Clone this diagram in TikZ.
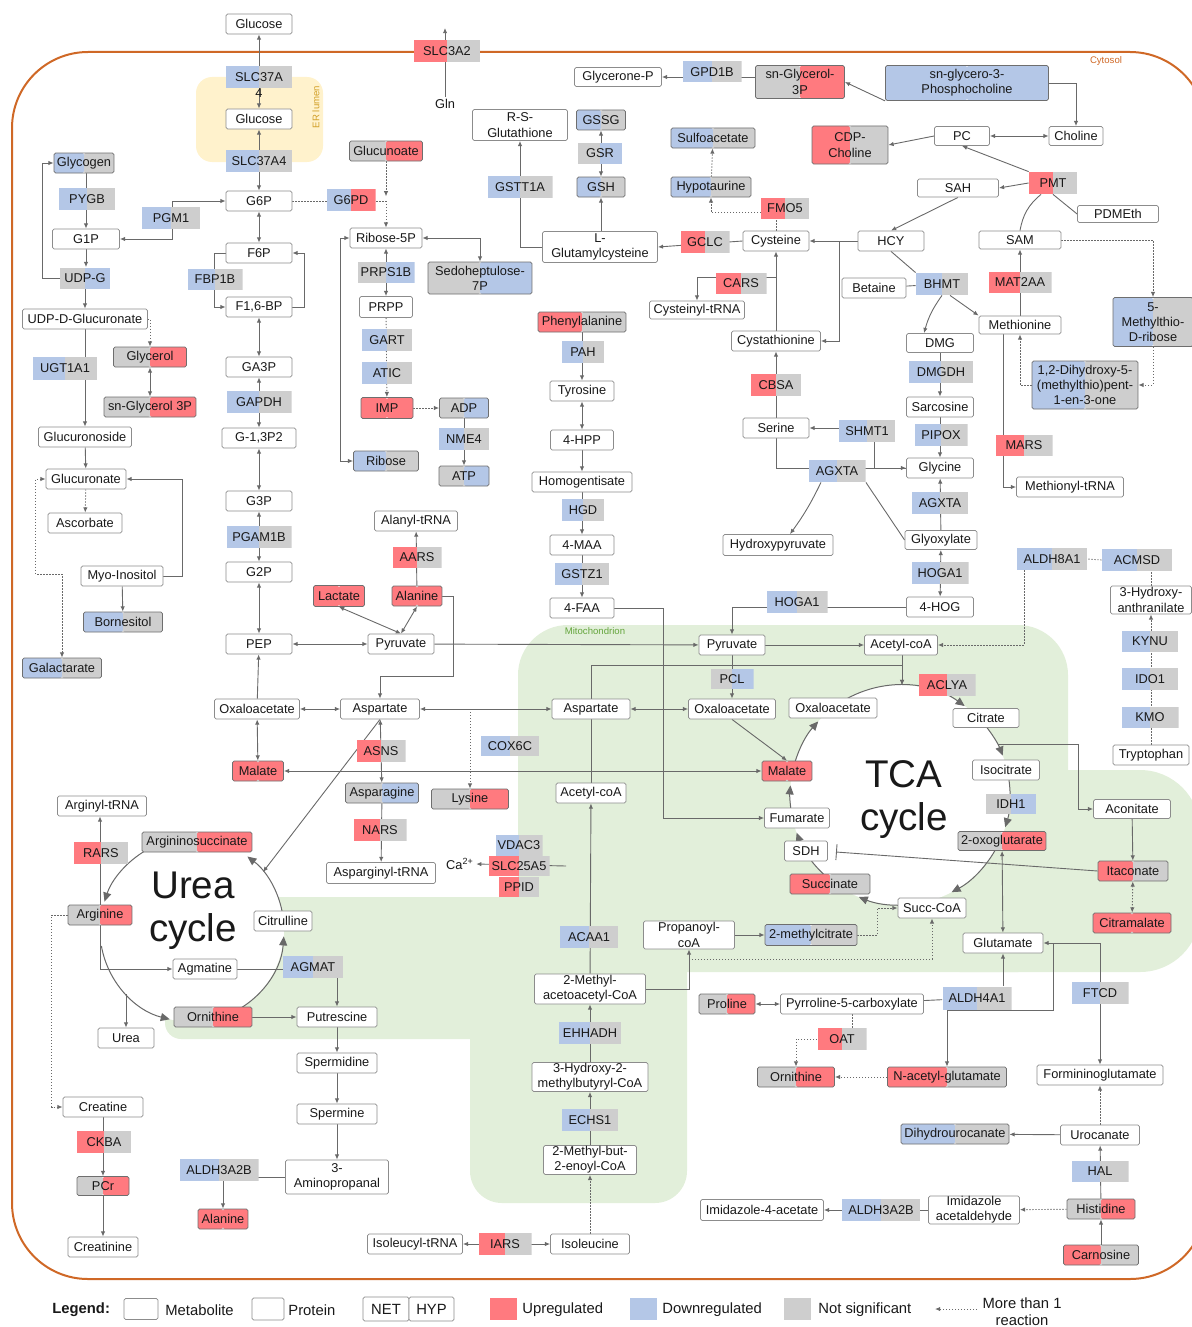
\documentclass[tikz,border=0pt]{standalone}
\usepackage{fontspec}
\setmainfont{Liberation Sans}
\usetikzlibrary{arrows.meta}
\definecolor{upc}{RGB}{255,122,127}
\definecolor{dnc}{RGB}{180,199,231}
\definecolor{nsc}{RGB}{206,206,206}
\definecolor{metline}{RGB}{140,140,140}
\definecolor{cmetline}{RGB}{110,110,110}
\definecolor{linegray}{RGB}{105,105,105}
\definecolor{cytoc}{RGB}{207,104,38}
\definecolor{mitoc}{RGB}{226,239,218}
\definecolor{mitotext}{RGB}{100,165,60}
\definecolor{erc}{RGB}{255,242,204}
\definecolor{ertext}{RGB}{210,160,40}
\definecolor{txt}{RGB}{25,25,25}
\newcommand\nodefont{\fontsize{6.4}{7.6}\selectfont}
\newcommand\legfont{\fontsize{7.4}{8.6}\selectfont}
\newcommand\cycfont{\fontsize{19.3}{21.5}\selectfont}
\newcommand\tagfont{\fontsize{4.8}{5.5}\selectfont}
\pgfdeclarelayer{bg}
\pgfdeclarelayer{edges}
\pgfsetlayers{bg,edges,main}
\tikzset{
  half/.style 2 args={path picture={
      \fill[#1] (path picture bounding box.south west) rectangle (path picture bounding box.north);
      \fill[#2] (path picture bounding box.south) rectangle (path picture bounding box.north east);}},
  met/.style={draw=metline, fill=white, rounded corners=0.8pt, inner sep=0pt,
      minimum height=10pt, align=center, font=\nodefont, text=txt},
  cmet/.style 2 args={met, draw=cmetline, half={#1}{#2}},
  prot/.style 2 args={inner sep=0pt, minimum height=11pt, align=center,
      font=\nodefont, text=txt, half={#1}{#2}},
  wd/.style={minimum width=#1*0.5pt},
  ht/.style={minimum height=#1*0.5pt},
  multi/.style={dash pattern=on 0.6pt off 0.9pt},
  cyc/.style={draw=linegray, line width=0.5pt, -{Triangle[length=4.5pt,width=4pt]}},
  swatch/.style={inner sep=0pt, minimum width=13.5pt, minimum height=11pt},
}
\begin{document}
\begin{tikzpicture}[x=0.5pt,y=-0.5pt,>={Latex[length=2.6pt,width=2.2pt]}]
\useasboundingbox (0,0) rectangle (1192,1327);

% ---------------- glucose, glycolysis ----------------
\node[met,wd=66] (gluOut) at (259,24) {Glucose};
\node[prot={dnc}{nsc},wd=66] (slcA) at (259,77) {SLC37A};
\node[inner sep=0pt,font=\nodefont,text=txt] (slcAfour) at (259,93) {4};
\node[met,wd=66] (gluER) at (259,119) {Glucose};
\node[prot={dnc}{nsc},wd=66] (slcB) at (259,161) {SLC37A4};
\node[met,wd=66] (gsixp) at (259,201) {G6P};
\node[met,wd=66] (fsixp) at (259,253) {F6P};
\node[met,wd=66] (fbp) at (259,307) {F1,6-BP};
\node[met,wd=66] (gathreep) at (259,367) {GA3P};
\node[prot={dnc}{nsc},wd=65] (gapdh) at (259,402) {GAPDH};
\node[met,wd=74] (gonethree) at (259,438) {G-1,3P2};
\node[met,wd=66] (gthreep) at (259,501) {G3P};
\node[prot={dnc}{nsc},wd=65] (pgam) at (259,537) {PGAM1B};
\node[met,wd=66] (gtwop) at (259,572) {G2P};
\node[met,wd=66] (pep) at (259,644) {PEP};
\node[met,wd=85] (oaaL) at (257,709) {Oxaloacetate};
\node[cmet={upc}{upc},wd=51] (malL) at (258,771) {Malate};

% ---------------- glycogen, glucuronate ----------------
\node[cmet={dnc}{nsc},wd=60] (glycogen) at (84,163) {Glycogen};
\node[prot={dnc}{nsc},wd=56] (pygb) at (87,199) {PYGB};
\node[prot={dnc}{nsc},wd=58] (pgm) at (171,218) {PGM1};
\node[met,wd=67] (gonep) at (86,239) {G1P};
\node[prot={nsc}{dnc},wd=50,ht=21] (udpg) at (85,278) {UDP-G};
\node[prot={dnc}{nsc},wd=55,ht=21] (fbpb) at (215,279) {FBP1B};
\node[met,wd=125] (udpgluc) at (85,319) {UDP-D-Glucuronate};
\node[cmet={nsc}{upc},wd=73] (glycerol) at (150,357) {Glycerol};
\node[prot={dnc}{nsc},wd=64,ht=23] (ugt) at (65,368) {UGT1A1};
\node[cmet={nsc}{upc},wd=92] (snglyc) at (150,407) {sn-Glycerol 3P};
\node[met,wd=93] (glucuronoside) at (85,437) {Glucuronoside};
\node[met,wd=80] (glucuronate) at (86,479) {Glucuronate};
\node[met,wd=74] (ascorbate) at (85,523) {Ascorbate};
\node[met,wd=82] (myoino) at (122,576) {Myo-Inositol};
\node[cmet={dnc}{nsc},wd=79] (bornesitol) at (123,622) {Bornesitol};
\node[cmet={dnc}{nsc},wd=79] (galactarate) at (62,668) {Galactarate};

% ---------------- pentose phosphate, purines ----------------
\node[prot={upc}{nsc},wd=66] (slcthree) at (447,51) {SLC3A2};
\node[font=\nodefont,text=txt,inner sep=1pt] (gln) at (445,104) {Gln};
\node[cmet={nsc}{upc},wd=73] (glucunoate) at (386,151) {Glucunoate};
\node[prot={dnc}{upc},wd=49] (gsixpd) at (351,200) {G6PD};
\node[met,wd=72] (ribfivep) at (386,238) {Ribose-5P};
\node[prot={nsc}{dnc},wd=57,ht=21] (prps) at (386,272) {PRPS1B};
\node[cmet={nsc}{dnc},wd=104,ht=32] (sedo) at (480,278) {Sedoheptulose-\\7P};
\node[met,wd=53,ht=21] (prpp) at (386,307) {PRPP};
\node[prot={dnc}{nsc},wd=50] (gart) at (387,340) {GART};
\node[prot={dnc}{nsc},wd=50] (atic) at (387,373) {ATIC};
\node[cmet={upc}{upc},wd=52,ht=21] (imp) at (387,408) {IMP};
\node[cmet={nsc}{dnc},wd=49] (adp) at (464,408) {ADP};
\node[prot={dnc}{nsc},wd=50] (nme) at (464,439) {NME4};
\node[cmet={dnc}{nsc},wd=65] (ribose) at (386,461) {Ribose};
\node[cmet={nsc}{dnc},wd=50] (atp) at (464,476) {ATP};

% ---------------- alanine, aspartate ----------------
\node[met,wd=83] (alatrna) at (416,521) {Alanyl-tRNA};
\node[prot={upc}{nsc},wd=49,ht=21] (aars) at (417,557) {AARS};
\node[cmet={upc}{upc},wd=51,ht=21] (lactate) at (339,596) {Lactate};
\node[cmet={upc}{upc},wd=50] (alaU) at (417,596) {Alanine};
\node[met,wd=66] (pyrL) at (401,644) {Pyruvate};
\node[met,wd=79] (aspL) at (380,709) {Aspartate};
\node[prot={upc}{nsc},wd=49] (asns) at (381,751) {ASNS};
\node[prot={dnc}{nsc},wd=58,ht=20] (cox) at (510,746) {COX6C};
\node[cmet={nsc}{dnc},wd=73] (asparagine) at (382,793) {Asparagine};
\node[cmet={nsc}{upc},wd=77] (lysine) at (470,799) {Lysine};
\node[prot={upc}{nsc},wd=53] (nars) at (380,830) {NARS};
\node[prot={dnc}{nsc},wd=47,ht=21] (vdac) at (519,845) {VDAC3};
\node[prot={upc}{nsc},wd=61,ht=20] (slctwofive) at (519,866) {SLC25A5};
\node[prot={upc}{nsc},wd=40,ht=20] (ppid) at (519,887) {PPID};
\node[font=\nodefont,text=txt,inner sep=1pt] (ca) at (460,864) {Ca\textsuperscript{2+}};
\node[met,wd=109,ht=21] (asntrna) at (381,873) {Asparginyl-tRNA};

% ---------------- glutathione, tyrosine ----------------
\node[met,wd=95,ht=31] (rsglut) at (520,125) {R-S-\\Glutathione};
\node[cmet={dnc}{nsc},wd=49] (gssg) at (601,120) {GSSG};
\node[prot={nsc}{dnc},wd=44,ht=21] (gsr) at (600,153) {GSR};
\node[cmet={dnc}{nsc},wd=48] (gsh) at (601,187) {GSH};
\node[prot={dnc}{nsc},wd=65] (gstt) at (520,187) {GSTT1A};
\node[met,wd=115,ht=31] (lglut) at (600,247) {L-\\Glutamylcysteine};
\node[cmet={upc}{nsc},wd=88] (phe) at (582,322) {Phenylalanine};
\node[prot={dnc}{nsc},wd=42] (pah) at (583,352) {PAH};
\node[met,wd=64] (tyr) at (582,391) {Tyrosine};
\node[met,wd=63] (hpp) at (582,440) {4-HPP};
\node[met,wd=100] (homog) at (582,482) {Homogentisate};
\node[prot={dnc}{nsc},wd=42] (hgd) at (583,510) {HGD};
\node[met,wd=64] (maa) at (582,545) {4-MAA};
\node[prot={dnc}{nsc},wd=54] (gstz) at (582,574) {GSTZ1};
\node[met,wd=64] (faa) at (582,608) {4-FAA};

% ---------------- choline, methionine, serine ----------------
\node[met,wd=87,ht=19] (glyceroneP) at (618,77) {Glycerone-P};
\node[prot={dnc}{nsc},wd=59,ht=21] (gpd) at (712,72) {GPD1B};
\node[cmet={nsc}{upc},wd=89,ht=33] (snglycthree) at (800,82) {sn-Glycerol-\\3P};
\node[cmet={dnc}{dnc},wd=163,ht=35] (gpc) at (967,83) {sn-glycero-3-\\Phosphocholine};
\node[cmet={dnc}{nsc},wd=84] (sulfo) at (713,138) {Sulfoacetate};
\node[cmet={upc}{nsc},wd=76,ht=38] (cdpchol) at (850,145) {CDP-\\Choline};
\node[met,wd=55,ht=19] (pc) at (962,136) {PC};
\node[met,wd=54,ht=19] (choline) at (1076,136) {Choline};
\node[cmet={dnc}{nsc},wd=80] (hypot) at (711,187) {Hypotaurine};
\node[prot={upc}{nsc},wd=48,ht=21] (fmo) at (785,208) {FMO5};
\node[met,wd=81,ht=18] (sah) at (958,188) {SAH};
\node[prot={upc}{nsc},wd=48] (pmt) at (1053,183) {PMT};
\node[met,wd=81,ht=17] (pdmeth) at (1118,214) {PDMEth};
\node[prot={upc}{nsc},wd=49] (gclc) at (705,242) {GCLC};
\node[met,wd=66] (cys) at (776,241) {Cysteine};
\node[met,wd=66] (hcy) at (891,241) {HCY};
\node[met,wd=82,ht=18] (sam) at (1020,240) {SAM};
\node[prot={upc}{nsc},wd=51,ht=21] (cars) at (741,283) {CARS};
\node[met,wd=64] (betaine) at (874,288) {Betaine};
\node[prot={dnc}{nsc},wd=52] (bhmt) at (942,284) {BHMT};
\node[prot={upc}{nsc},wd=63,ht=21] (mat) at (1020,282) {MAT2AA};
\node[cmet={dnc}{nsc},wd=80,ht=49] (mtr) at (1153,322) {5-\\Methylthio-\\D-ribose};
\node[met,wd=95,ht=18] (cystrna) at (697,310) {Cysteinyl-tRNA};
\node[met,wd=82,ht=18] (methionine) at (1020,325) {Methionine};
\node[met,wd=89] (cysta) at (776,341) {Cystathionine};
\node[met,wd=67,ht=19] (dmg) at (940,343) {DMG};
\node[prot={dnc}{nsc},wd=64] (dmgdh) at (941,372) {DMGDH};
\node[cmet={dnc}{nsc},wd=106,ht=48] (dhmtp) at (1085,385) {1,2-Dihydroxy-5-\\(methylthio)pent-\\1-en-3-one};
\node[prot={upc}{nsc},wd=50] (cbsa) at (776,385) {CBSA};
\node[met,wd=67] (sarcosine) at (940,407) {Sarcosine};
\node[met,wd=66] (serine) at (776,428) {Serine};
\node[prot={dnc}{nsc},wd=56] (shmt) at (867,431) {SHMT1};
\node[prot={dnc}{nsc},wd=53] (pipox) at (941,435) {PIPOX};
\node[prot={upc}{nsc},wd=57,ht=21] (mars) at (1024,445) {MARS};
\node[met,wd=67] (glycine) at (940,468) {Glycine};
\node[prot={dnc}{nsc},wd=57] (agxtM) at (837,471) {AGXTA};
\node[met,wd=107] (methtrna) at (1070,487) {Methionyl-tRNA};
\node[prot={dnc}{nsc},wd=56] (agxtR) at (940,503) {AGXTA};
\node[met,wd=72,ht=19] (glyox) at (941,540) {Glyoxylate};
\node[met,wd=110,ht=21] (hydroxypyr) at (778,545) {Hydroxypyruvate};
\node[prot={dnc}{nsc},wd=70] (aldheight) at (1052,559) {ALDH8A1};
\node[prot={dnc}{nsc},wd=70] (acmsd) at (1137,560) {ACMSD};
\node[prot={dnc}{nsc},wd=57] (hogaR) at (940,573) {HOGA1};
\node[prot={dnc}{nsc},wd=61] (hogaL) at (797,602) {HOGA1};
\node[met,wd=81,ht=28] (haa) at (1151,600) {3-Hydroxy-\\anthranilate};
\node[met,wd=67] (hog) at (940,607) {4-HOG};
\node[prot={dnc}{nsc},wd=56,ht=21] (kynu) at (1150,641) {KYNU};
\node[prot={dnc}{nsc},wd=56] (ido) at (1150,679) {IDO1};
\node[prot={dnc}{nsc},wd=57,ht=21] (kmo) at (1150,717) {KMO};
\node[met,wd=76] (tryp) at (1151,755) {Tryptophan};

% ---------------- mitochondrion, TCA cycle ----------------
\node[met,wd=66] (pyrM) at (732,645) {Pyruvate};
\node[met,wd=73] (acoaT) at (901,645) {Acetyl-coA};
\node[prot={nsc}{dnc},wd=43,ht=20] (pcl) at (732,679) {PCL};
\node[prot={upc}{nsc},wd=57] (aclya) at (947,685) {ACLYA};
\node[met,wd=87] (oaaM) at (732,709) {Oxaloacetate};
\node[met,wd=88] (oaaT) at (833,708) {Oxaloacetate};
\node[met,wd=78] (aspM) at (591,709) {Aspartate};
\node[met,wd=66,ht=19] (citrate) at (986,718) {Citrate};
\node[met,wd=67] (isocit) at (1006,770) {Isocitrate};
\node[cmet={upc}{upc},wd=50] (malT) at (787,771) {Malate};
\node[met,wd=70] (acoaM) at (591,793) {Acetyl-coA};
\node[prot={nsc}{dnc},wd=50,ht=20] (idh) at (1011,804) {IDH1};
\node[met,wd=77,ht=19] (aconitate) at (1132,809) {Aconitate};
\node[met,wd=65] (fumarate) at (797,818) {Fumarate};
\node[cmet={nsc}{upc},wd=88,ht=19] (oxoglut) at (1002,841) {2-oxoglutarate};
\node[met,wd=43] (sdh) at (806,851) {SDH};
\node[cmet={upc}{nsc},wd=70] (itaconate) at (1133,871) {Itaconate};
\node[cmet={upc}{nsc},wd=80] (succinate) at (830,884) {Succinate};
\node[met,wd=68] (succcoa) at (932,908) {Succ-CoA};
\node[cmet={upc}{upc},wd=78] (citramalate) at (1132,923) {Citramalate};
\node[met,wd=91,ht=28] (propcoa) at (689,935) {Propanoyl-\\coA};
\node[cmet={dnc}{nsc},wd=92,ht=21] (mcit) at (811,935) {2-methylcitrate};
\node[prot={dnc}{nsc},wd=58] (acaa) at (589,937) {ACAA1};
\node[met,wd=80] (glutamate) at (1003,943) {Glutamate};
\node[met,wd=111,ht=30] (mabcoa) at (590,989) {2-Methyl-\\acetoacetyl-CoA};
\node[prot={dnc}{nsc},wd=62] (ehhadh) at (590,1033) {EHHADH};
\node[met,wd=116,ht=29] (hmbcoa) at (590,1077) {3-Hydroxy-2-\\methylbutyryl-CoA};
\node[prot={dnc}{nsc},wd=56] (echs) at (590,1120) {ECHS1};
\node[met,wd=93,ht=29] (mbecoa) at (590,1160) {2-Methyl-but-\\2-enoyl-CoA};
\node[met,wd=79] (isoleucine) at (590,1244) {Isoleucine};
\node[met,wd=95] (isotrna) at (415,1244) {Isoleucyl-tRNA};
\node[prot={upc}{nsc},wd=53] (iars) at (505,1244) {IARS};

% ---------------- glutamate, proline, histidine ----------------
\node[cmet={nsc}{upc},wd=56] (proline) at (727,1004) {Proline};
\node[met,wd=143] (p5c) at (852,1004) {Pyrroline-5-carboxylate};
\node[prot={dnc}{nsc},wd=69,ht=23] (aldhfour) at (977,998) {ALDH4A1};
\node[prot={dnc}{nsc},wd=57] (ftcd) at (1100,993) {FTCD};
\node[prot={upc}{nsc},wd=49] (oat) at (842,1039) {OAT};
\node[cmet={nsc}{upc},wd=77] (ornR) at (796,1077) {Ornithine};
\node[cmet={upc}{nsc},wd=119] (nag) at (947,1077) {N-acetyl-glutamate};
\node[met,wd=126] (formin) at (1100,1075) {Formininoglutamate};
\node[cmet={dnc}{nsc},wd=108] (dihydro) at (955,1134) {Dihydrourocanate};
\node[met,wd=79] (urocanate) at (1100,1135) {Urocanate};
\node[prot={dnc}{nsc},wd=57,ht=21] (hal) at (1100,1171) {HAL};
\node[met,wd=91,ht=28] (imacetald) at (974,1210) {Imidazole\\acetaldehyde};
\node[prot={dnc}{nsc},wd=78] (aldhR) at (881,1210) {ALDH3A2B};
\node[met,wd=123,ht=21] (imacetate) at (762,1210) {Imidazole-4-acetate};
\node[cmet={nsc}{upc},wd=68] (histidine) at (1101,1209) {Histidine};
\node[cmet={upc}{nsc},wd=75] (carnosine) at (1101,1255) {Carnosine};

% ---------------- urea cycle, polyamines, creatine ----------------
\node[met,wd=89] (argtrna) at (102,806) {Arginyl-tRNA};
\node[prot={upc}{nsc},wd=54] (rars) at (101,853) {RARS};
\node[cmet={nsc}{upc},wd=110] (argsucc) at (197,842) {Argininosuccinate};
\node[cmet={nsc}{upc},wd=64] (arginine) at (100,915) {Arginine};
\node[met,wd=58] (citrulline) at (283,921) {Citrulline};
\node[met,wd=64] (agmatine) at (205,969) {Agmatine};
\node[prot={dnc}{nsc},wd=60] (agmat) at (313,967) {AGMAT};
\node[cmet={nsc}{upc},wd=78] (ornU) at (213,1017) {Ornithine};
\node[met,wd=56] (urea) at (126,1038) {Urea};
\node[met,wd=80] (putrescine) at (337,1017) {Putrescine};
\node[met,wd=80] (spermidine) at (337,1063) {Spermidine};
\node[met,wd=80] (spermine) at (337,1114) {Spermine};
\node[met,wd=103,ht=34] (aminoprop) at (337,1177) {3-\\Aminopropanal};
\node[met,wd=80] (creatine) at (103,1107) {Creatine};
\node[prot={upc}{nsc},wd=54] (ckba) at (104,1142) {CKBA};
\node[cmet={nsc}{upc},wd=52,ht=19] (pcr) at (103,1186) {PCr};
\node[met,wd=70] (creatinine) at (103,1247) {Creatinine};
\node[prot={dnc}{nsc},wd=79] (aldhL) at (219,1170) {ALDH3A2B};
\node[cmet={upc}{upc},wd=50] (alaB) at (223,1219) {Alanine};

% ---------------- labels ----------------
\node[font=\cycfont,text=txt,align=center] (tcalabel) at (904,800) {TCA\\cycle};
\node[font=\cycfont,text=txt,align=center] (urealabel) at (193,911) {Urea\\cycle};
\node[font=\tagfont,text=cytoc] (cytosollabel) at (1106,61) {Cytosol};
\node[font=\tagfont,text=ertext,rotate=90] (erlabel) at (316,107) {ER lumen};
\node[font=\tagfont,text=mitotext] (mitolabel) at (595,631) {Mitochondrion};

% ---------------- legend ----------------
\node[font=\legfont\bfseries,text=txt,anchor=west,inner sep=0pt] (legtitle) at (52,1310) {Legend:};
\node[met,wd=34,ht=21] (legmet) at (141,1309) {};
\node[font=\legfont,text=txt,anchor=west,inner sep=0pt] (legmettext) at (165,1310) {Metabolite};
\node[met,wd=32,ht=22] (legprot) at (268,1309) {};
\node[font=\legfont,text=txt,anchor=west,inner sep=0pt] (legprottext) at (288,1310) {Protein};
\node[met,wd=46,ht=24,font=\legfont] (legnet) at (386,1309) {NET};
\node[met,wd=45,ht=24,font=\legfont] (leghyp) at (431.5,1309) {HYP};
\node[swatch,fill=upc] (legup) at (503.5,1309) {};
\node[font=\legfont,text=txt,anchor=west,inner sep=0pt] (leguptext) at (522,1310) {Upregulated};
\node[swatch,fill=dnc] (legdn) at (643.5,1309) {};
\node[font=\legfont,text=txt,anchor=west,inner sep=0pt] (legdntext) at (662,1310) {Downregulated};
\node[swatch,fill=nsc] (legns) at (797.5,1309) {};
\node[font=\legfont,text=txt,anchor=west,inner sep=0pt] (legnstext) at (818,1310) {Not significant};
\node[font=\legfont,text=txt,align=center,inner sep=0pt] (legmore) at (1022,1312) {More than 1\\reaction};
\coordinate (legdot) at (977,1309);
\coordinate (legdotend) at (935,1309);

% free ends and junctions
\coordinate (pjoin) at (386,201);
\coordinate (glnout) at (445,28);
\coordinate (carsj) at (776,277);
\coordinate (hcyj) at (839,241);
\coordinate (acin) at (902,685);
\coordinate (pcj) at (689,959);
\coordinate (acon0) at (998,744);
\coordinate (sdhbar) at (836,852);
\coordinate (slcr) at (566,866);
\coordinate (uasp) at (263,872);
\coordinate (ureaj) at (126,994);
\coordinate (tcen) at (900,795);
\coordinate (ucen) at (192,930);

% ---------------- compartments ----------------
\begin{pgfonlayer}{bg}
  \fill[mitoc, rounded corners=25pt] (518,625) rectangle (1068,972);
  \fill[mitoc, rounded corners=30pt] (900,770) rectangle (1200,972);
  \fill[mitoc, rounded corners=8pt] (165,897) rectangle (560,1039);
  \fill[mitoc, rounded corners=16pt] (470,897) rectangle (687,1203);
  \fill[erc, rounded corners=8pt] (196,77) rectangle (323,162);
  \draw[cytoc, line width=1pt, rounded corners=38pt] (12,52) rectangle (1206,1279);
  \fill[white] (tcen) circle[radius=110];
  \fill[white] (ucen) circle[radius=92];
\end{pgfonlayer}

% ---------------- reactions ----------------
\begin{pgfonlayer}{edges}
\begin{scope}[draw=linegray, line width=0.45pt]
% glycolysis
\draw[<->] (gluER) -- (gluOut);
\draw[<->] (gsixp) -- (gluER);
\draw[<->] (gsixp) -- (fsixp);
\draw[->] (fsixp.west) -- ++(-11,0) |- (fbp.west);
\draw[->] (fbp.east) -- ++(12,0) |- (fsixp.east);
\draw[<->] (fbp) -- (gathreep);
\draw[<->] (gathreep) -- (gonethree);
\draw[<->] (gonethree) -- (gthreep);
\draw[<->] (gthreep) -- (gtwop);
\draw[<->] (gtwop) -- (pep);
\draw[->] (oaaL) -- (pep);
\draw[<->] (oaaL) -- (malL);
\draw[<->] (pep) -- (pyrL);
\draw[<->] (oaaL) -- (aspL);
\draw[<->] (malL) -- (malT);
% glycogen, glucuronate
\draw[<->] (gonep.east) -- ++(53,0) |- (gsixp.west);
\draw[->] (glycogen.south -| gonep) -- (gonep.north);
\draw[->] (gonep.south) -- (gonep.south |- udpg.north);
\draw[->] (udpg.west) -- ++(-17,0) |- (glycogen.west);
\draw[->] (udpg) -- (udpgluc);
\draw[->] (udpgluc) -- (glucuronoside);
\draw[multi,->] (udpgluc.east) -| (glycerol.north);
\draw[<->] (glycerol) -- (snglyc);
\draw[->] (glucuronoside) -- (glucuronate);
\draw[multi,->] (glucuronate) -- (ascorbate);
\draw[->] (myoino.east) -- ++(19,0) |- (glucuronate.east);
\draw[->] (myoino) -- (bornesitol);
\draw[multi,<->] (glucuronate.west) -- ++(-10,0) -- ++(0,95) -| (galactarate.north);
% pentose phosphate
\draw[multi] (gsixp.east) -- (pjoin);
\draw[multi,->] (glucunoate.south) -- ++(0,35);
\draw[multi,->] (pjoin) -- (ribfivep.north);
\draw[<->] (ribfivep.east) -| (sedo.north);
\draw[<->] (ribfivep) -- (prpp);
\draw[multi,->] (prpp) -- (imp);
\draw[multi,->] (imp) -- (adp);
\draw[->] (adp) -- (atp);
\draw[<->] (ribose.west) -- ++(-13,0) |- (ribfivep.west);
\draw[->] (gln) -- (glnout);
% glutathione, cysteine
\draw[->] (lglut.west) -| (rsglut.south);
\draw[->] (lglut.north -| gsh) -- (gsh.south);
\draw[<->] (gsh) -- (gssg);
\draw[->] (cys.west) -- (lglut.east);
\draw[multi,->] (cys.north) -- ++(0,-18) -| (hypot.south);
\draw[multi,->] (hypot) -- (sulfo);
\draw[->] (carsj) -| (cystrna.north);
\draw[->] (cysta) -- (cys);
\draw[->] (hcy) -- (cys);
\draw[->] (hcyj) |- (cysta.east);
\draw[->] (serine) -- (cysta);
\draw[->] (glycine.west) -- ++(-32,0) |- (serine.east);
\draw[->] (serine.south) |- (glycine.west);
\draw[->] ([xshift=-8pt]agxtM.south) to[bend left=5] ([xshift=6pt]hydroxypyr.north);
\draw (agxtM.south east) -- (glyox.west);
\draw[->] (glyox) -- (glycine);
\draw[<->] (hog) -- (glyox);
\draw[->] (hog.west) -| (pyrM.north);
\draw[->] (dmg) -- (sarcosine);
\draw[->] (sarcosine) -- (glycine);
% methionine, choline
\draw (betaine) -- (bhmt);
\draw (hcy.south) -- (bhmt.north west);
\draw[->] ([xshift=4pt]bhmt.south) -- (methionine.north west);
\draw[->] (bhmt.south) to[bend right=10] ([xshift=-8pt]dmg.north);
\draw[->] (sah.south) -- (hcy.north);
\draw[->] (pmt.west) -- (sah.east);
\draw[->] (pmt.north west) -- (pc.south);
\draw (pmt.south) -- (pdmeth.west);
\draw (sam.north) to[bend left=20] ([xshift=-6pt]pmt.south);
\draw[<->] (pc) -- (choline);
\draw[->] (pc.west) -- (cdpchol.east);
\draw[->] (gpc.east) -| (choline.north);
\draw[->] (gpc.south west) -- (snglycthree.east);
\draw[->] (snglycthree.west |- glyceroneP) -- (glyceroneP.east);
\draw[multi,->] (sam.east) -| (mtr.north);
\draw[multi,->] (mtr.south) |- (dhmtp.east);
\draw[multi,->] (dhmtp.west) -| (methionine.south);
\draw[->] (methionine) -- (sam);
\draw[->] ([xshift=-8.5pt]methionine.south) |- (methtrna.west);
% tyrosine
\draw[->] (phe) -- (tyr);
\draw[<->] (tyr) -- (hpp);
\draw[->] (hpp) -- (homog);
\draw[->] (homog) -- (maa);
\draw[->] (maa) -- (faa);
\draw[->] (faa.east) -- ++(49,0) |- (fumarate.west);
% alanine, aspartate
\draw[->] (alaU) -- (alatrna);
\draw[<->] (lactate.south) -- (pyrL.north);
\draw[<->] (alaU.south) -- (pyrL.north);
\draw[->] (alaU.east) -- ++(11,0) -- ++(0,80) -| (aspL.north);
\draw[->] (pyrL) -- (pyrM);
\draw[<->] (aspL) -- (aspM);
\draw[multi,->] (lysine.north |- aspL) -- (lysine.north);
\draw[<->] (aspL) -- (asparagine);
\draw[->] (aspL.south) -- (uasp);
\draw[->] (asparagine) -- (asntrna);
\draw[->] (slcr) -- (ca.east);
% mitochondrion
\draw[->] (pyrM) -- (acoaT);
\draw[->] (pyrM) -- (oaaM);
\draw[<->] (aspM) -- (oaaM);
\draw[->] (oaaM.south) -- (malT.north);
\draw[->] (acoaT.south -| acin) -- (acin);
\draw[->] (acoaM.north) -- ++(0,-117) -| (acin);
\draw[->] (mabcoa) -- (acoaM);
\draw[->] (mabcoa.east) -| (propcoa.south);
\draw[->] (hmbcoa) -- (mabcoa);
\draw[->] (mbecoa) -- (hmbcoa);
\draw[multi,->] (isoleucine) -- (mbecoa);
\draw[<->] (isotrna) -- (isoleucine);
\draw[->] (propcoa) -- (mcit);
\draw[multi,->] (mcit.east) -- ++(20,0) |- (succcoa.west);
\draw[multi,->] (pcj) -| (succcoa.south);
\draw[<->] (oxoglut) -- (glutamate);
\draw[->] (acon0) -- ++(80,0) |- (aconitate.west);
\draw[->] (aconitate) -- (itaconate);
\draw[multi,<->] (itaconate) -- (citramalate);
\draw[-{Bar[width=8pt]}] (itaconate.west) -- (sdhbar);
\draw[multi] (haa.north) -- (haa.north |- acmsd.south);
\draw[multi] (acmsd.west) -- (aldheight.east);
\draw[multi,->] ([xshift=-14pt]aldheight.south) |- (acoaT.east);
\draw[multi,->] (tryp) -- (haa);
% glutamate, proline, histidine
\draw (p5c) -- (aldhfour);
\draw[->] (aldhfour.north -| glutamate) -- (glutamate.south);
\draw[<->] (glutamate.east) -| (formin.north);
\draw[->] ([xshift=5pt]glutamate.east) -- ++(0,67) -| (nag.north);
\draw[<->] (proline) -- (p5c);
\draw[multi] (p5c.south) -- (p5c.south |- oat.north);
\draw[multi,->] (oat.west) -| (ornR.north);
\draw[multi,->] (nag) -- (ornR);
\draw[multi,->] (urocanate) -- (formin);
\draw[->] (urocanate) -- (dihydro);
\draw[->] (histidine) -- (urocanate);
\draw[->] (carnosine) -- (histidine);
\draw[multi,->] (histidine) -- (imacetald);
\draw[->] (imacetald) -- (imacetate);
% urea cycle, polyamines, creatine
\draw[->] (ornU) -- (putrescine);
\draw[->] (agmatine.east) -| (putrescine.north);
\draw[->] (putrescine) -- (spermidine);
\draw[->] (spermidine) -- (spermine);
\draw[->] (spermine) -- (aminoprop);
\draw[->] (aminoprop.west) -| (alaB.north);
\draw[->] (arginine.north) -- (arginine.north |- argtrna.south);
\draw[multi,->] (arginine.west) -- ++(-16,0) |- (creatine.west);
\draw[->] (creatine) -- (pcr);
\draw[->] (pcr) -- (creatinine);
\draw[->] (arginine.south) |- (agmatine.west);
\draw[->] (ureaj) -- (urea.north);
% the two cycles
\foreach \a/\b in {190/222,240/306,320/339,350/377,25/62,75/112,125/160,170/185}
  \draw[cyc] ([shift={(\a:110)}]tcen) arc[start angle=\a,end angle=\b,radius=110];
\foreach \a/\b in {70/4,-5/-53,-120/-162,-190/-256}
  \draw[cyc] ([shift={(\a:92)}]ucen) arc[start angle=\a,end angle=\b,radius=92];
% legend arrow
\draw[multi,->] (legdot) -- (legdotend);
\end{scope}
\end{pgfonlayer}
\end{tikzpicture}
\end{document}
